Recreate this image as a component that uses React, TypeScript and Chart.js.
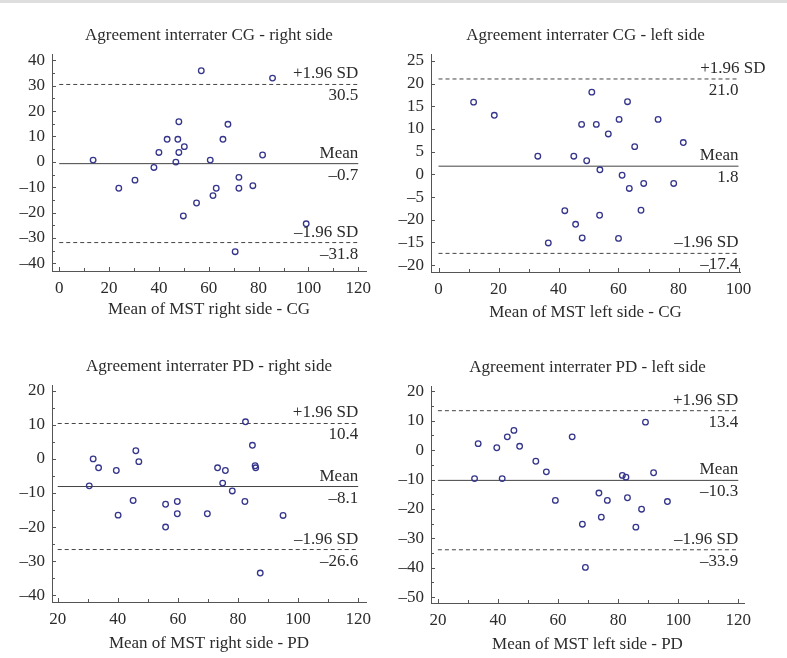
import React, { useEffect, useRef } from "react";
import { Chart, registerables } from "chart.js";

Chart.register(...registerables);

const FONT = '"Liberation Serif", "Times New Roman", serif';
const TEXT = "#2b2b2b";
const AXIS = "#555555";
const LINE = "#444444";
const MARK = "#35358c";

// ---------- Panel 1: CG right side ----------
const cgRightX = [13.6, 23.9, 30.4, 38.0, 40.0, 43.3, 46.8, 47.6, 48.0, 48.0, 50.2, 49.8, 55.1, 57.0, 60.6, 61.7, 63.0, 65.7, 67.7, 70.6, 72.1, 72.1, 77.7, 81.6, 85.6, 99.1];
const cgRightY = [0.7, -10.4, -7.2, -2.2, 3.7, 8.9, -0.1, 8.9, 15.8, 3.7, 6.0, -21.3, -16.2, 35.9, 0.7, -13.3, -10.4, 8.9, 14.8, -35.4, -6.1, -10.4, -9.4, 2.7, 33.0, -24.4];
const cgRightStats = [-0.7, 30.5, -31.8]; // mean, +1.96 SD, -1.96 SD
const cgRightXTicks = [0, 20, 40, 60, 80, 100, 120];
const cgRightXLabels = ["0", "20", "40", "60", "80", "100", "120"];
const cgRightYTicks = [-40, -30, -20, -10, 0, 10, 20, 30, 40];
const cgRightYLabels = ["–40", "–30", "–20", "–10", "0", "10", "20", "30", "40"];

// ---------- Panel 2: CG left side ----------
const cgLeftX = [11.7, 18.6, 33.1, 36.6, 42.1, 45.1, 45.7, 47.7, 47.9, 49.4, 51.1, 52.6, 53.8, 53.7, 56.6, 60.2, 60.0, 61.2, 63.0, 63.6, 65.4, 67.5, 68.4, 73.2, 78.4, 81.6];
const cgLeftY = [15.9, 13.0, 4.0, -15.1, -8.0, 4.0, -11.0, 11.0, -14.0, 3.0, 18.1, 11.0, 1.0, -9.0, 8.9, 12.1, -14.1, -0.2, 16.0, -3.1, 6.1, -7.9, -2.0, 12.1, -2.0, 7.0];
const cgLeftStats = [1.8, 21.0, -17.4];
const cgLeftXTicks = [0, 20, 40, 60, 80, 100];
const cgLeftXLabels = ["0", "20", "40", "60", "80", "100"];
const cgLeftYTicks = [-20, -15, -10, -5, 0, 5, 10, 15, 20, 25];
const cgLeftYLabels = ["–20", "–15", "–20", "–5", "0", "5", "10", "15", "20", "25"];

// ---------- Panel 3: PD right side ----------
const pdRightX = [30.5, 31.8, 33.6, 39.5, 40.1, 45.1, 46.0, 47.0, 55.9, 55.9, 59.8, 59.8, 69.8, 73.2, 74.9, 75.8, 78.1, 82.3, 82.5, 84.8, 85.7, 85.9, 87.4, 95.0];
const pdRightY = [-7.9, 0.0, -2.6, -3.4, -16.5, -12.2, 2.4, -0.8, -13.3, -20.0, -12.5, -16.1, -16.1, -2.6, -7.1, -3.4, -9.4, -12.5, 10.9, 4.0, -2.0, -2.6, -33.5, -16.6];
const pdRightStats = [-8.1, 10.4, -26.6];
const pdRightXTicks = [20, 40, 60, 80, 100, 120];
const pdRightXLabels = ["20", "40", "60", "80", "100", "120"];
const pdRightYTicks = [-40, -30, -20, -10, 0, 10, 20];
const pdRightYLabels = ["–40", "–30", "–20", "–10", "0", "10", "20"];

// ---------- Panel 4: PD left side ----------
const pdLeftX = [32.2, 33.4, 39.6, 41.4, 43.1, 45.3, 47.2, 52.6, 56.1, 59.1, 64.7, 68.1, 69.1, 73.6, 74.4, 76.4, 81.4, 82.6, 83.1, 85.9, 87.8, 89.1, 91.8, 96.4];
const pdLeftY = [-9.7, 2.2, 0.8, -9.7, 4.5, 6.7, 1.3, -3.8, -7.4, -17.1, 4.5, -25.2, -39.9, -14.6, -22.8, -17.1, -8.6, -9.2, -16.2, -26.2, -20.1, 9.5, -7.7, -17.5];
const pdLeftStats = [-10.3, 13.4, -33.9];
const pdLeftXTicks = [20, 40, 60, 80, 100, 120];
const pdLeftXLabels = ["20", "40", "60", "80", "100", "120"];
const pdLeftYTicks = [-50, -40, -30, -20, -10, 0, 10, 20];
const pdLeftYLabels = ["–50", "–40", "–30", "–20", "–10", "0", "10", "20"];

const fmt = (v: number) => (v < 0 ? "–" + Math.abs(v).toFixed(1) : v.toFixed(1));

interface PanelSpec {
  title: string;
  xTitle: string;
  xs: number[];
  ys: number[];
  stats: number[];
  xTicks: number[];
  xLabels: string[];
  yTicks: number[];
  yLabels: string[];
  xMin: number;
  xMax: number;
  yMin: number;
  yMax: number;
  xMinor: number;
  yMinor: number;
  // layout (pixels)
  left: number;
  top: number;
  w: number;
  h: number;
  areaLeft: number;
  areaTop: number;
  areaRight: number;
  areaBottom: number;
  xAxisH: number;
  upperShift: number;
}

const decorPlugin = {
  id: "decor",
  afterDraw(chart: any, _args: any, opts: any) {
    const { ctx, chartArea, scales } = chart;
    const xs = scales.x;
    const ys = scales.y;
    ctx.save();
    ctx.strokeStyle = AXIS;
    ctx.lineWidth = 1;
    ctx.beginPath();
    // x ticks (inside, pointing up)
    const xLo = opts.xTicks[0];
    const xHi = opts.xTicks[opts.xTicks.length - 1];
    for (let v = xLo; v <= xHi + 1e-9; v += opts.xMinor) {
      const major = opts.xTicks.includes(v);
      const px = Math.round(xs.getPixelForValue(v)) + 0.5;
      ctx.moveTo(px, chartArea.bottom);
      ctx.lineTo(px, chartArea.bottom - (major ? 4 : 3));
    }
    const yLo = opts.yTicks[0];
    const yHi = opts.yTicks[opts.yTicks.length - 1];
    for (let v = yLo; v <= yHi + 1e-9; v += opts.yMinor) {
      const major = opts.yTicks.includes(v);
      const py = Math.round(ys.getPixelForValue(v)) + 0.5;
      ctx.moveTo(chartArea.left, py);
      ctx.lineTo(chartArea.left + (major ? 4 : 3), py);
    }
    ctx.stroke();

    // panel title
    ctx.fillStyle = TEXT;
    ctx.font = `17px ${FONT}`;
    ctx.textAlign = "center";
    ctx.textBaseline = "alphabetic";
    ctx.fillText(opts.title, (chartArea.left + chartArea.right) / 2, chartArea.top - 14);

    // reference line labels
    ctx.textAlign = "right";
    const rx = xs.getPixelForValue(xHi);
    const [mean, up, lo] = opts.stats;
    const put = (name: string, val: number, shift: number) => {
      const py = ys.getPixelForValue(val);
      ctx.fillText(name, rx + shift, py - 6);
      ctx.fillText(fmt(val), rx, py + 16);
    };
    put("+1.96 SD", up, opts.upperShift);
    put("Mean", mean, 0);
    put("–1.96 SD", lo, 0);
    ctx.restore();
  },
};

function Panel({ p }: { p: PanelSpec }) {
  const ref = useRef<HTMLCanvasElement>(null);
  useEffect(() => {
    if (!ref.current) return;
    const pts = p.xs.map((x, i) => ({ x, y: p.ys[i] }));
    const lo = p.xTicks[0];
    const hi = p.xTicks[p.xTicks.length - 1];
    const hline = (v: number) => [{ x: lo, y: v }, { x: hi, y: v }];
    const chart = new Chart(ref.current, {
      type: "scatter",
      data: {
        datasets: [
          {
            data: pts,
            pointStyle: "circle",
            pointRadius: 2.8,
            pointBorderWidth: 1.3,
            pointBorderColor: MARK,
            pointBackgroundColor: "rgba(0,0,0,0)",
            borderColor: MARK,
            showLine: false,
            clip: false,
            order: 0,
          },
          {
            data: hline(p.stats[0]),
            showLine: true,
            borderColor: LINE,
            borderWidth: 1,
            pointRadius: 0,
            order: 1,
          },
          {
            data: hline(p.stats[1]),
            showLine: true,
            borderColor: LINE,
            borderWidth: 1,
            borderDash: [4, 3],
            pointRadius: 0,
            order: 1,
          },
          {
            data: hline(p.stats[2]),
            showLine: true,
            borderColor: LINE,
            borderWidth: 1,
            borderDash: [4, 3],
            pointRadius: 0,
            order: 1,
          },
        ],
      },
      options: {
        responsive: false,
        animation: false,
        devicePixelRatio: 1,
        layout: {
          padding: {
            left: 0,
            top: p.areaTop,
            right: p.w - p.areaRight,
            bottom: p.h - p.areaBottom - p.xAxisH,
          },
        },
        plugins: {
          legend: { display: false },
          tooltip: { enabled: false },
          title: { display: false },
          decor: {
            title: p.title,
            stats: p.stats,
            xTicks: p.xTicks,
            yTicks: p.yTicks,
            xMinor: p.xMinor,
            yMinor: p.yMinor,
            upperShift: p.upperShift,
          },
        } as any,
        scales: {
          x: {
            type: "linear",
            min: p.xMin,
            max: p.xMax,
            grid: { display: false, drawTicks: false },
            border: { display: true, color: AXIS, width: 1 },
            afterBuildTicks: (s: any) => {
              s.ticks = p.xTicks.map((v) => ({ value: v }));
            },
            afterFit: (s: any) => {
              s.height = p.xAxisH;
            },
            ticks: {
              autoSkip: false,
              maxRotation: 0,
              padding: 7,
              color: TEXT,
              font: { family: FONT, size: 17 },
              callback: (v: any) => {
                const i = p.xTicks.indexOf(Number(v));
                return i >= 0 ? p.xLabels[i] : "";
              },
            },
            title: {
              display: true,
              text: p.xTitle,
              color: TEXT,
              padding: 0,
              font: { family: FONT, size: 17 },
            },
          },
          y: {
            type: "linear",
            min: p.yMin,
            max: p.yMax,
            grid: { display: false, drawTicks: false },
            border: { display: true, color: AXIS, width: 1 },
            afterBuildTicks: (s: any) => {
              s.ticks = p.yTicks.map((v) => ({ value: v }));
            },
            afterFit: (s: any) => {
              s.width = p.areaLeft;
            },
            ticks: {
              autoSkip: false,
              padding: 7,
              color: TEXT,
              font: { family: FONT, size: 17 },
              callback: (v: any) => {
                const i = p.yTicks.indexOf(Number(v));
                return i >= 0 ? p.yLabels[i] : "";
              },
            },
          },
        },
      },
      plugins: [decorPlugin as any],
    });
    return () => chart.destroy();
  }, [p]);
  return (
    <canvas
      ref={ref}
      width={p.w}
      height={p.h}
      style={{ position: "absolute", left: p.left, top: p.top, width: p.w, height: p.h }}
    />
  );
}

const panels: PanelSpec[] = [
  {
    title: "Agreement interrater CG - right side",
    xTitle: "Mean of MST right side - CG",
    xs: cgRightX, ys: cgRightY, stats: cgRightStats,
    xTicks: cgRightXTicks, xLabels: cgRightXLabels, yTicks: cgRightYTicks, yLabels: cgRightYLabels,
    xMin: -2.9, xMax: 123.1, yMin: -43, yMax: 42.5, xMinor: 10, yMinor: 5,
    left: 0, top: 0, w: 390, h: 330,
    areaLeft: 52, areaTop: 54, areaRight: 366, areaBottom: 271, xAxisH: 49, upperShift: 0,
  },
  {
    title: "Agreement interrater CG - left side",
    xTitle: "Mean of MST left side - CG",
    xs: cgLeftX, ys: cgLeftY, stats: cgLeftStats,
    xTicks: cgLeftXTicks, xLabels: cgLeftXLabels, yTicks: cgLeftYTicks, yLabels: cgLeftYLabels,
    xMin: -2.5, xMax: 100.5, yMin: -21.5, yMax: 26.5, xMinor: 10, yMinor: 5,
    left: 390, top: 0, w: 397, h: 330,
    areaLeft: 41, areaTop: 54, areaRight: 350, areaBottom: 272, xAxisH: 51, upperShift: 27,
  },
  {
    title: "Agreement interrater PD - right side",
    xTitle: "Mean of MST right side - PD",
    xs: pdRightX, ys: pdRightY, stats: pdRightStats,
    xTicks: pdRightXTicks, xLabels: pdRightXLabels, yTicks: pdRightYTicks, yLabels: pdRightYLabels,
    xMin: 18.1, xMax: 122.6, yMin: -42, yMax: 21.7, xMinor: 10, yMinor: 5,
    left: 0, top: 320, w: 390, h: 338,
    areaLeft: 52, areaTop: 65, areaRight: 366, areaBottom: 282, xAxisH: 52, upperShift: 0,
  },
  {
    title: "Agreement interrater PD - left side",
    xTitle: "Mean of MST left side - PD",
    xs: pdLeftX, ys: pdLeftY, stats: pdLeftStats,
    xTicks: pdLeftXTicks, xLabels: pdLeftXLabels, yTicks: pdLeftYTicks, yLabels: pdLeftYLabels,
    xMin: 17.7, xMax: 121.9, yMin: -52, yMax: 21.8, xMinor: 10, yMinor: 5,
    left: 390, top: 320, w: 397, h: 338,
    areaLeft: 41, areaTop: 66, areaRight: 354, areaBottom: 283, xAxisH: 52, upperShift: 0,
  },
];

export default function App() {
  return (
    <div style={{ position: "absolute", left: 0, top: 0, width: 787, height: 658, background: "#ffffff", overflow: "hidden" }}>
      <div style={{ position: "absolute", left: 0, top: 0, width: 787, height: 3, background: "#dedede" }} />
      {panels.map((p, i) => (
        <Panel key={i} p={p} />
      ))}
    </div>
  );
}
